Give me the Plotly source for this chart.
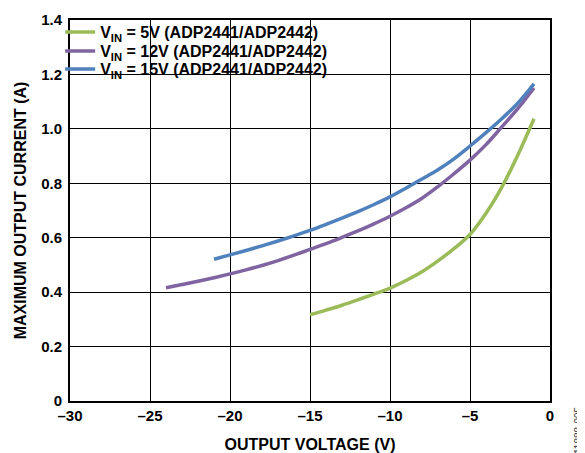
import plotly.graph_objects as go

v_5 = [-15, -14, -13, -12, -11, -10, -9, -8, -7, -6, -5, -4, -3, -2, -1]
i_5 = [0.317, 0.334, 0.352, 0.372, 0.393, 0.415, 0.443, 0.475, 0.515, 0.560, 0.612, 0.690, 0.787, 0.905, 1.037]

v_12 = [-24, -23, -22, -21, -20, -19, -18, -17, -16, -15, -14, -13, -12, -11, -10,
        -9, -8, -7, -6, -5, -4, -3, -2, -1]
i_12 = [0.416, 0.428, 0.440, 0.453, 0.467, 0.482, 0.498, 0.516, 0.536, 0.557, 0.578, 0.601,
        0.625, 0.651, 0.679, 0.710, 0.745, 0.788, 0.835, 0.885, 0.942, 1.008, 1.075, 1.150]

v_15 = [-21, -20, -19, -18, -17, -16, -15, -14, -13, -12, -11, -10, -9, -8, -7, -6,
        -5, -4, -3, -2, -1]
i_15 = [0.521, 0.537, 0.553, 0.570, 0.588, 0.607, 0.627, 0.649, 0.672, 0.696, 0.722, 0.750,
        0.782, 0.816, 0.850, 0.890, 0.937, 0.986, 1.038, 1.095, 1.165]

x_ticks = [-30, -25, -20, -15, -10, -5, 0]
x_labels = ["\u201330", "\u201325", "\u201320", "\u201315", "\u201310", "\u20135", "0"]
y_ticks = [0, 0.2, 0.4, 0.6, 0.8, 1.0, 1.2, 1.4]
y_labels = ["0", "0.2", "0.4", "0.6", "0.8", "1.0", "1.2", "1.4"]

names = ["V<sub>IN</sub> = 5V (ADP2441/ADP2442)",
         "V<sub>IN</sub> = 12V (ADP2441/ADP2442)",
         "V<sub>IN</sub> = 15V (ADP2441/ADP2442)"]
colors = ["#9BBB59", "#8064A2", "#4F81BD"]
legend_ids = ["legend", "legend2", "legend3"]
legend_rows = [0.9685, 0.9186, 0.8714]

FONT = "Liberation Sans, Arial, sans-serif"

fig = go.Figure()
for xs, ys, n, c, lg in zip([v_5, v_12, v_15], [i_5, i_12, i_15], names, colors, legend_ids):
    fig.add_trace(go.Scatter(x=xs, y=ys, mode="lines", name=n, legend=lg,
                             line=dict(color=c, width=3.5, shape="spline", smoothing=1)))

# white box behind the legend, hiding the grid like the original
fig.add_shape(type="rect", xref="paper", yref="paper",
              x0=0.003, x1=0.5625, y0=0.848, y1=0.996,
              fillcolor="white", line=dict(width=0), layer="between")

legend_style = dict(xanchor="left", yanchor="middle", bgcolor="rgba(0,0,0,0)",
                    borderwidth=0, itemwidth=30,
                    font=dict(family=FONT, size=16, color="black", weight="bold"))

# the page body has an 8px margin, so the figure is 8px smaller in each direction
fig.update_layout(
    width=577, height=445,
    margin=dict(l=62, r=35, t=12, b=52, autoexpand=False),
    paper_bgcolor="white", plot_bgcolor="white",
    font=dict(family=FONT, size=15, color="black", weight="bold"),
    showlegend=True,
    xaxis=dict(range=[-30, 0], tickvals=x_ticks, ticktext=x_labels,
               showgrid=True, gridcolor="black", gridwidth=1,
               showline=True, linecolor="black", linewidth=2, mirror=True,
               zeroline=False, ticks="", automargin=False,
               tickfont=dict(family=FONT, size=15, weight="bold"),
               title=dict(text="OUTPUT VOLTAGE (V)", standoff=19,
                          font=dict(family=FONT, size=16, weight="bold"))),
    yaxis=dict(range=[0, 1.4], tickvals=y_ticks, ticktext=y_labels,
               showgrid=True, gridcolor="black", gridwidth=1,
               showline=True, linecolor="black", linewidth=2, mirror=True,
               zeroline=False, ticks="", automargin=False, ticklabelstandoff=3,
               tickfont=dict(family=FONT, size=15, weight="bold"),
               title=dict(text="MAXIMUM OUTPUT CURRENT (A)", standoff=11,
                          font=dict(family=FONT, size=16, weight="bold"))),
)
for lg, ry in zip(legend_ids, legend_rows):
    fig.update_layout({lg: dict(legend_style, x=-0.0205, y=ry)})

fig.add_annotation(text="11888-005", x=1.0, y=0.0, xref="paper", yref="paper",
                   xanchor="center", yanchor="top", xshift=28, yshift=-3,
                   textangle=-90, showarrow=False,
                   font=dict(family=FONT, size=10, color="#333333", weight="normal"))

fig.write_html("out.html")
